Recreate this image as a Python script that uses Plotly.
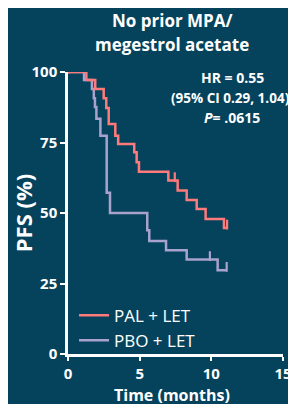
import plotly.graph_objects as go

# PAL + LET (red) Kaplan-Meier steps
pal_t = [0, 1.28, 1.9, 2.49, 2.67, 2.84, 3.3, 3.5, 4.62, 4.79, 4.95, 7.0, 7.65, 8.28, 8.98, 9.6, 10.88, 11.1]
pal_s = [100, 97.2, 94.0, 90.7, 87.2, 81.6, 77.4, 74.5, 71.5, 68.0, 64.6, 61.5, 58.0, 54.6, 51.4, 47.9, 44.7, 44.7]
pal_cens = [0.05, 7.45, 11.1]

# PBO + LET (purple) Kaplan-Meier steps
pbo_t = [0, 1.12, 1.67, 1.8, 1.88, 1.98, 2.26, 2.7, 2.93, 5.53, 5.67, 6.84, 8.28, 10.44, 11.07]
pbo_s = [100, 97.2, 94.0, 90.7, 87.6, 83.4, 77.4, 57.2, 50.0, 43.9, 40.1, 36.8, 33.5, 29.7, 29.7]
pbo_cens = [9.9, 11.07]

x_ticks = [0, 5, 10, 15]
y_ticks = [0, 25, 50, 75, 100]

RED = "#FF7A7A"
PURPLE = "#A8A2CC"
BG = "#05435D"
WHITE = "#FFFFFF"
FONT = "Open Sans"


def step_value(ts, ss, t):
    v = ss[0]
    for ti, si in zip(ts, ss):
        if ti <= t:
            v = si
    return v


fig = go.Figure()

fig.add_trace(go.Scatter(x=pbo_t, y=pbo_s, mode="lines", line=dict(color=PURPLE, width=2.5, shape="hv"),
                         name="PBO + LET", legendrank=2))
fig.add_trace(go.Scatter(x=pbo_cens, y=[step_value(pbo_t, pbo_s, t) + 1.2 for t in pbo_cens], mode="markers",
                         marker=dict(symbol="line-ns", size=7, line=dict(color=PURPLE, width=2.2)),
                         showlegend=False, hoverinfo="skip"))
fig.add_trace(go.Scatter(x=pal_t, y=pal_s, mode="lines", line=dict(color=RED, width=2.5, shape="hv"),
                         name="PAL + LET", legendrank=1))
fig.add_trace(go.Scatter(x=pal_cens, y=[step_value(pal_t, pal_s, t) + 1.2 for t in pal_cens], mode="markers",
                         marker=dict(symbol="line-ns", size=7, line=dict(color=RED, width=2.2)),
                         showlegend=False, hoverinfo="skip"))

fig.update_layout(
    width=288, height=396,
    paper_bgcolor=BG, plot_bgcolor=BG,
    margin=dict(l=60, r=13, t=64, b=50, autoexpand=False),
    font=dict(family=FONT, color=WHITE),
    legend=dict(x=0.028, y=0.2, xanchor="left", yanchor="top", bgcolor="rgba(0,0,0,0)",
                font=dict(size=17, color=WHITE, family=FONT), itemwidth=30, tracegroupgap=0),
    showlegend=True,
)

fig.update_xaxes(range=[0, 15], tickvals=x_ticks, ticktext=[f"<b>{v}</b>" for v in x_ticks],
                 showgrid=False, zeroline=False, showline=True, linecolor=WHITE, linewidth=2.5,
                 ticks="outside", ticklen=4, tickwidth=2, tickcolor=WHITE, automargin=False,
                 tickfont=dict(size=15, color=WHITE, family=FONT))
fig.update_yaxes(range=[0, 100], tickvals=y_ticks, ticktext=[f"<b>{v}</b>" for v in y_ticks],
                 showgrid=False, zeroline=False, showline=True, linecolor=WHITE, linewidth=2.5,
                 ticks="outside", ticklen=5, tickwidth=2, tickcolor=WHITE, automargin=False,
                 tickfont=dict(size=15, color=WHITE, family=FONT),
                 title=dict(text="<b>PFS (%)</b>", font=dict(size=22, color=WHITE, family=FONT), standoff=6))

# X-axis title
fig.add_annotation(text="<b>Time (months)</b>", xref="paper", yref="paper", x=0.486, y=-0.1454,
                   xanchor="center", yanchor="middle", showarrow=False,
                   font=dict(size=16, color=WHITE, family=FONT))

# Title, as two centred lines
fig.add_annotation(text="<b>No prior MPA/</b>", xref="paper", yref="paper", x=0.486, y=1.184,
                   xanchor="center", yanchor="middle", showarrow=False,
                   font=dict(size=17, color=WHITE, family=FONT))
fig.add_annotation(text="<b>megestrol acetate</b>", xref="paper", yref="paper", x=0.486, y=1.096,
                   xanchor="center", yanchor="middle", showarrow=False,
                   font=dict(size=17, color=WHITE, family=FONT))

# Statistics text
fig.add_annotation(text="<b>HR = 0.55</b>", xref="paper", yref="paper", x=0.763, y=0.979,
                   xanchor="center", yanchor="middle", showarrow=False,
                   font=dict(size=14, color=WHITE, family=FONT))
fig.add_annotation(text="<b>(95% CI 0.29, 1.04)</b>", xref="paper", yref="paper", x=0.468, y=0.908,
                   xanchor="left", yanchor="middle", showarrow=False,
                   font=dict(size=13.5, color=WHITE, family=FONT))
fig.add_annotation(text="<b><i>P</i>= .0615</b>", xref="paper", yref="paper", x=0.763, y=0.837,
                   xanchor="center", yanchor="middle", showarrow=False,
                   font=dict(size=14, color=WHITE, family=FONT))

fig.write_html("out.html")
